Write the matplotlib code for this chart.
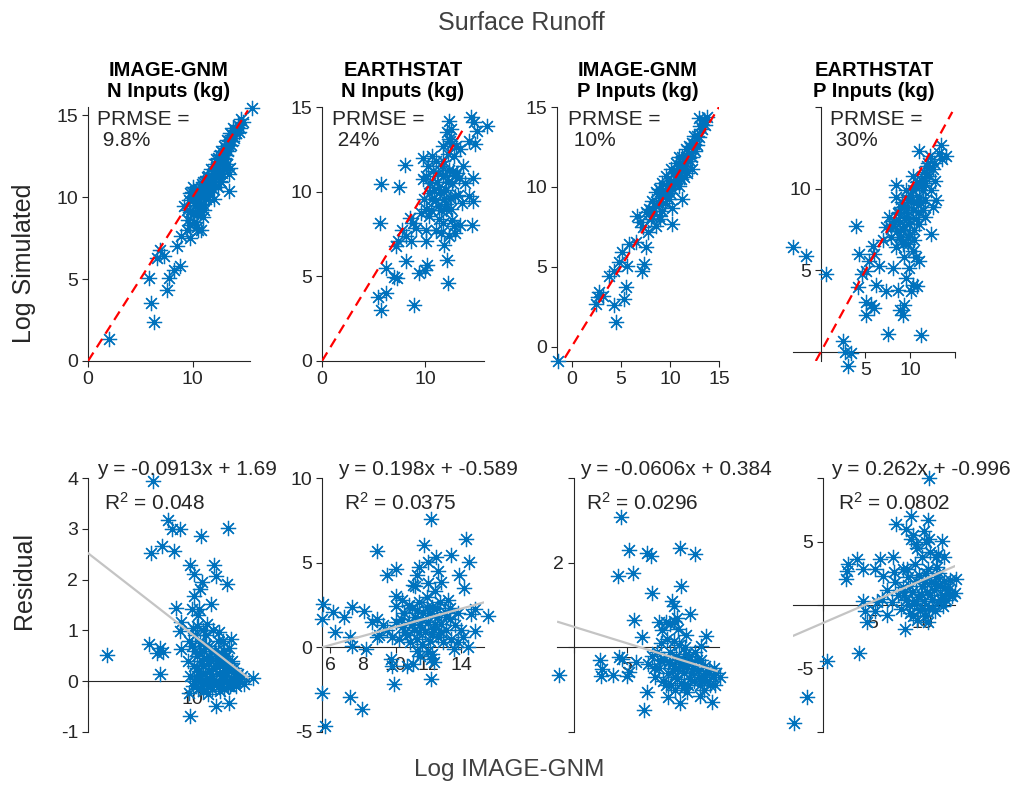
import numpy as np
import matplotlib
matplotlib.use("Agg")
import matplotlib.pyplot as plt

plt.rcParams['font.family'] = ['Liberation Sans', 'DejaVu Sans']
plt.rcParams['mathtext.default'] = 'regular'

# ---- data ----
titles = ["IMAGE-GNM\nN Inputs (kg)", "EARTHSTAT\nN Inputs (kg)",
          "IMAGE-GNM\nP Inputs (kg)", "EARTHSTAT\nP Inputs (kg)"]
prmse = ["9.8%", "24%", "10%", "30%"]
eq_text = ["y = -0.0913x + 1.69", "y = 0.198x + -0.589",
           "y = -0.0606x + 0.384", "y = 0.262x + -0.996"]
r2_text = ["0.048", "0.0375", "0.0296", "0.0802"]

n_image_pts = [(1.96,1.33),(6.35,2.41),(6.03,3.53),(5.8,5.06),(7.56,4.35),(7.72,5.06),(8.2,5.57),(8.8,5.78),
    (6.92,6.8),(6.6,6.29),(7.24,6.39),(8.5,7.0),(8.85,7.6),(9.5,8.0),(9.8,7.5),(10.8,8.0),(9.2,9.45),(9.8,10.27),
    (11.1,9.24),(12.05,9.86),(13.5,10.37),(13.5,11.39),(15.7,15.47),
    (9.5,9.2),(9.7,9.8),(9.9,10.3),(10.0,9.0),(10.1,8.5),(10.2,9.5),(10.3,10.1),(10.4,8.2),(10.5,9.7),(10.6,10.5),
    (10.7,9.1),(10.8,10.2),(10.9,10.8),(11.0,9.6),(11.1,10.4),(11.2,11.0),(11.3,9.9),(11.4,10.7),(11.5,11.3),
    (11.6,10.3),(11.7,11.0),(11.8,11.7),(11.9,10.8),(12.0,11.5),(12.1,12.0),(12.2,11.2),(12.3,11.9),(12.4,12.4),
    (12.5,11.5),(12.6,12.2),(12.7,12.8),(12.8,12.0),(12.9,12.6),(13.0,13.1),(13.1,12.3),(13.2,13.0),(13.3,13.5),
    (13.4,12.8),(13.5,13.4),(13.6,13.9),(13.7,13.2),(13.8,13.8),(13.9,14.2),(14.0,13.6),(14.1,14.1),(14.3,14.4),
    (14.5,14.2),(14.6,14.8),(14.8,14.6),(12.6,11.0),(13.0,11.8),(13.3,12.0),(11.0,8.8),(10.5,8.0),(9.8,8.3),
    (12.0,10.5),(12.7,10.9),(13.6,11.8),(9.6,8.6),(10.0,10.6),(12.4,10.6),
    (10.2,10.0),(10.6,9.9),(11.0,10.9),(11.4,11.2),(11.8,11.2),(12.2,12.3),(12.6,12.6),(13.0,12.4),(13.4,13.2),
    (13.8,13.4),(14.2,13.9),(14.4,14.0),(10.4,9.0),(10.8,9.5),(11.2,10.1),(11.6,10.8),(12.0,11.0),(12.4,11.6),
    (12.8,11.5),(13.2,12.6),(9.8,9.1),(10.1,9.9),(10.9,10.5),(11.5,10.0),(12.2,11.6)]

n_earth_pts = [(5.75,10.44),(5.65,8.16),(7.5,10.3),(8.0,11.6),(6.23,5.49),(7.0,4.99),(7.25,4.89),(5.43,3.8),
    (5.75,3.0),(6.2,4.0),(8.1,5.88),(9.4,5.19),(10.2,5.68),(10.0,5.39),(8.95,3.31),(12.1,5.98),(12.2,4.59),
    (7.2,6.77),(7.35,7.07),(7.8,7.76),(8.15,7.37),(8.5,8.46),(8.8,8.16),(9.1,7.86),(8.6,7.07),(10.1,7.07),
    (9.75,12.0),(9.8,10.73),(10.7,12.1),(11.0,11.8),(11.7,11.8),(12.3,14.2),(12.45,13.0),(14.4,14.4),(14.7,14.1),
    (14.85,12.8),(16.0,13.9),(14.2,9.74),(14.6,9.45),(14.5,8.06),(14.6,10.83),(13.3,10.83),
    (10.1,7.76),(10.4,8.55),(10.7,9.54),(10.9,10.1),(11.2,9.15),(11.3,10.3),(11.7,10.9),(11.8,9.54),(12.0,10.1),
    (12.3,11.3),(12.5,8.95),(12.6,10.5),(12.8,12.1),(12.9,9.74),(13.1,11.1),(13.4,12.5),(13.6,9.35),(13.7,11.5),
    (13.9,10.5),(11.0,7.76),(11.5,7.56),(11.8,6.87),(12.3,7.37),(12.8,7.96),(13.4,8.06),(11.7,8.16),(12.1,13.5),
    (12.5,13.7),(12.6,12.9),(11.7,12.7),(10.3,11.5),(10.1,10.9),(10.5,10.5),(10.4,9.94),(11.2,11.1),(12.0,8.95),
    (12.9,7.56),(9.9,9.54),(9.6,8.75),(10.1,8.95),(14.2,13.0),(15.0,13.6),
    (10.6,8.9),(11.0,9.5),(11.4,10.0),(11.6,11.5),(12.2,10.6),(12.4,9.6),(12.7,11.2),(12.2,12.2),(11.9,11.0),
    (11.1,10.6),(10.8,11.2),(11.5,8.9),(12.9,10.9),(13.2,9.8),(12.0,9.3),(11.3,8.4),(12.6,8.3),(13.0,12.7),
    (12.3,13.1)]

p_image_pts = [(-1.42,-0.88),(2.47,2.67),(2.8,3.4),(2.64,3.08),(3.14,3.19),(4.32,2.6),(4.5,1.52),(5.34,2.98),
    (5.57,3.71),(3.75,4.44),(4.32,4.75),(4.83,5.27),(5.68,5.06),(5.17,5.9),(5.84,6.42),(6.59,6.52),(7.53,6.21),
    (7.36,5.17),(7.2,4.75),(6.69,8.19),(7.53,8.4),(8.04,7.98),(8.55,7.56),(9.2,8.5),(10.2,7.67),(10.2,8.7),
    (11.25,9.23),(8.2,9.13),(8.9,9.85),(9.2,10.27),(9.56,10.7),(10.07,11.1),(10.6,11.5),(10.9,11.9),(11.6,12.35),
    (12.3,12.77),(12.8,13.2),(13.1,13.8),(13.45,14.2),(13.8,14.4),(12.94,14.3),(10.2,9.85),(10.6,10.5),(10.9,10.9),
    (11.4,11.3),(11.76,11.6),(12.3,11.9),(12.6,12.25),(9.56,9.44),(8.9,9.0),(9.7,10.06),(10.4,10.9),(11.25,11.9),
    (11.9,12.56),(12.43,13.2),(10.9,10.06),(9.9,9.23),(11.76,10.9),(11.1,10.5),(8.9,8.19),(7.87,8.6),(8.55,9.65),
    (9.2,9.44),(8.2,8.19),(12.3,11.1),(11.4,10.6),(10.07,10.27),(10.74,10.98),(7.0,7.8),(7.3,7.5),(7.8,7.2),
    (8.3,8.5),(9.0,8.0),
    (8.6,8.8),(9.3,9.7),(9.8,9.9),(10.3,10.4),(10.8,10.7),(11.2,11.1),(11.6,11.9),(12.1,12.1),(12.5,12.7),
    (13.0,13.1),(13.3,13.6),(9.0,9.3),(9.5,9.0),(10.0,9.6),(10.5,10.2),(11.0,11.3),(11.5,11.0),(12.0,11.6),
    (12.8,12.6),(13.6,13.9)]

p_earth_pts = [(-3.07,6.41),(-1.6,5.85),(0.56,4.79),(3.96,7.7),(2.48,0.7),(2.67,0.0),(3.4,-0.06),(3.0,-0.85),
    (7.48,1.12),(11.2,1.06),(4.15,3.96),(5.07,2.26),(5.63,2.88),(6.0,2.7),(5.07,3.09),(4.33,6.0),(5.07,4.96),
    (4.6,4.75),(5.81,6.51),(6.0,6.0),(5.44,5.58),(6.55,5.27),(6.19,4.13),(7.3,3.71),(8.03,5.17),(8.6,3.82),
    (8.8,2.57),(9.3,2.88),(9.15,2.26),(9.5,4.54),(9.9,5.17),(10.26,4.13),(10.8,4.02),(10.07,3.71),(9.15,6.62),
    (10.26,6.2),(10.6,5.79),(9.7,6.62),(11.0,5.58),(8.4,10.25),(9.5,9.9),(8.4,9.5),(11.0,12.3),(13.4,12.7),
    (13.6,11.8),(12.5,8.9),(12.3,7.24),(12.85,9.3),
    (7.3,7.66),(8.03,7.86),(7.67,8.28),(8.8,7.97),(9.15,7.45),(8.6,8.49),(9.5,8.28),(9.9,7.86),(10.26,8.69),
    (10.6,9.1),(10.07,9.3),(11.0,9.5),(11.4,9.94),(11.7,10.35),(12.1,10.77),(12.5,11.18),(11.9,11.4),(11.5,11.0),
    (10.6,10.15),(9.7,9.3),(8.96,8.9),(10.4,7.45),(11.0,7.86),(11.7,8.28),(11.4,8.69),(9.7,7.03),(8.8,7.03),
    (7.85,7.03),(6.9,6.83),(8.4,6.41),(9.33,5.79),(10.4,6.83),(11.2,10.56),(10.26,10.77),(9.33,8.9),(11.7,9.3),
    (12.67,11.6),(13.2,12.2),(13.96,12.0),(12.3,9.94),(10.6,8.17),
    (8.2,8.0),(8.7,8.6),(9.1,9.2),(9.6,8.9),(10.0,9.6),(10.3,9.9),(10.8,10.4),(11.3,10.2),(11.8,10.9),(12.0,11.6),
    (9.3,7.7),(9.8,8.2),(10.9,8.6),(11.2,9.1),(8.5,7.4),(9.0,6.9),(10.0,7.2),(12.2,12.0),(12.8,10.5),(7.9,7.6)]

n_image_res = [(1.8,0.51),(6.22,3.94),(7.66,3.17),(8.04,3.0),(8.78,2.99),(6.06,2.52),(7.08,2.66),(8.2,2.57),
    (10.77,2.86),(13.43,3.02),(9.8,2.28),(12.05,2.29),(10.13,2.11),(10.93,1.95),(12.2,2.08),(13.33,1.91),
    (10.7,1.82),(8.46,1.45),(10.13,1.68),(11.73,1.52),(9.97,1.42),(10.6,1.42),(8.75,0.99),(8.85,1.16),
    (10.45,1.09),(11.4,1.12),(12.5,0.96),(13.65,0.84),(5.8,0.73),(6.92,0.66),(6.6,0.55),(7.18,0.57),(6.92,0.15),
    (8.85,0.63),(9.65,-0.23),(9.8,-0.68),(12.2,-0.48),(13.5,-0.43),(15.74,0.07),
    (9.6,0.4),(9.8,0.1),(9.9,0.7),(10.0,-0.1),(10.1,0.3),(10.2,0.9),(10.3,0.05),(10.4,0.5),(10.5,-0.15),
    (10.6,0.2),(10.7,0.75),(10.8,0.0),(10.9,0.4),(11.0,-0.2),(11.1,0.6),(11.2,0.15),(11.3,0.9),(11.4,-0.05),
    (11.5,0.35),(11.6,0.7),(11.7,0.05),(11.8,0.45),(11.9,-0.15),(12.0,0.25),(12.1,0.6),(12.2,0.0),(12.3,0.4),
    (12.4,0.8),(12.5,-0.1),(12.6,0.3),(12.7,0.55),(12.8,0.05),(12.9,0.35),(13.0,-0.15),(13.1,0.2),(13.2,0.5),
    (13.3,0.0),(13.4,0.3),(13.5,0.65),(13.6,-0.1),(13.7,0.2),(13.8,0.4),(13.9,0.0),(14.0,0.25),(14.2,-0.1),
    (14.3,0.15),(14.5,0.05),(14.7,0.1),(14.9,-0.05),(10.0,1.05),(10.5,1.3),(11.0,1.0),(12.0,1.0),(9.7,0.8),
    (11.5,-0.25),(12.9,0.8),(10.2,0.6),(11.3,0.45),(12.6,-0.2),(13.0,0.6),
    (10.1,0.0),(10.4,0.25),(10.7,0.1),(11.0,0.3),(11.3,0.0),(11.6,0.2),(11.9,0.1),(12.2,0.3),(12.5,0.15),
    (12.8,-0.05),(13.1,0.1),(13.4,-0.1),(13.7,0.05),(14.0,-0.05),(14.4,0.0),(10.6,0.55),(11.2,0.7),(11.8,0.6),
    (12.4,0.5),(13.0,0.45),(13.6,0.35),(14.1,0.1),(10.9,-0.1),(12.0,-0.05),(13.2,0.3)]

n_earth_res = [(5.69,-4.64),(5.49,-2.67),(7.19,-2.96),(7.95,-3.66),(9.9,-2.17),(12.15,-1.88),(12.15,7.6),
    (11.74,6.03),(8.87,5.67),(9.45,4.25),(10.0,4.64),(14.3,6.42),(13.38,5.47),(14.5,5.04),(13.9,4.25),(14.2,3.5),
    (11.44,4.74),(11.95,5.04),(12.46,5.34),(12.77,3.85),(11.03,3.66),(11.33,4.25),(5.59,2.57),(5.49,1.68),
    (6.2,2.11),(6.86,1.78),(7.33,2.37),(8.05,2.17),(6.3,0.89),(7.23,0.59),(7.33,0.1),(8.2,-0.1),(8.56,1.48),
    (8.87,1.68),(8.87,0.59),(10.0,3.06),(10.0,2.47),(9.69,-0.69),(9.79,-1.09),(10.72,-1.09),(11.03,-0.99),
    (11.33,-0.2),(11.95,-0.2),(12.15,-0.69),(12.36,-0.89),(13.59,-0.1),(13.8,0.3),(14.1,0.59),(14.4,0.0),
    (14.82,0.99),(15.64,1.88),(14.6,1.98),(14.82,2.27),
    (10.2,0.5),(10.4,1.2),(10.5,2.0),(10.7,0.7),(10.8,1.5),(10.9,0.3),(11.0,2.3),(11.1,1.0),(11.2,1.8),(11.3,0.5),
    (11.4,2.7),(11.5,1.3),(11.6,0.2),(11.7,2.0),(11.8,0.9),(11.9,3.0),(12.0,1.5),(12.1,0.4),(12.2,2.4),(12.3,1.1),
    (12.4,3.3),(12.5,1.8),(12.6,0.6),(12.7,2.7),(12.8,1.4),(12.9,0.3),(13.0,2.1),(13.1,1.0),(13.2,2.8),(13.3,1.7),
    (13.4,0.5),(13.6,1.3),(13.8,2.0),(14.0,1.0),(11.2,3.6),(12.0,3.8),(12.6,4.5),(10.4,2.8),(9.5,1.0),(9.8,0.6),
    (10.0,1.5),(11.5,-0.5),(12.2,-0.4),(9.2,1.3),(9.0,0.7),
    (10.3,1.7),(10.6,0.9),(11.0,1.4),(11.3,2.2),(11.6,1.6),(11.9,2.4),(12.2,0.8),(12.5,2.3),(12.8,0.9),(13.1,1.8),
    (12.1,2.0),(11.4,0.9),(10.8,2.5),(12.4,1.4),(13.3,2.3)]

p_image_res = [(-1.38,-0.65),(4.45,3.08),(5.21,2.31),(6.9,2.24),(7.2,2.16),(4.2,1.69),(5.52,1.76),(9.97,2.35),
    (11.35,2.2),(7.36,1.29),(10.06,1.45),(9.2,1.1),(9.36,0.98),(10.9,0.78),(5.67,0.65),(7.98,0.6),(9.36,0.63),
    (6.44,0.24),(9.8,0.43),(12.4,0.27),(11.9,0.04),(2.45,-0.31),(2.7,-0.51),(2.6,-0.67),(3.68,-0.65),(4.23,-0.24),
    (4.54,-0.27),(4.97,-0.67),(5.21,-0.59),(5.83,-0.35),(6.6,-1.49),(6.9,-1.06),(8.83,-1.18),(9.97,-1.31),
    (11.8,-1.14),(12.9,-1.29),(13.65,-0.71),(13.2,-0.9),
    (7.0,-0.4),(7.3,-0.2),(7.6,-0.7),(7.8,-0.1),(8.0,-0.5),(8.2,0.1),(8.4,-0.8),(8.5,-0.3),(8.7,0.2),(8.8,-0.6),
    (9.0,-0.1),(9.1,-0.9),(9.2,-0.4),(9.4,0.15),(9.5,-0.7),(9.6,-0.2),(9.8,-0.5),(9.9,0.05),(10.0,-0.85),
    (10.2,-0.3),(10.3,-0.6),(10.4,0.0),(10.6,-0.45),(10.7,-0.9),(10.8,-0.2),(11.0,-0.6),(11.1,-0.35),(11.3,-0.8),
    (11.4,-0.1),(11.6,-0.55),(11.8,-0.9),(11.9,-0.3),(12.1,-0.65),(12.3,-0.45),(12.5,-0.8),(12.7,-0.55),
    (13.0,-0.7),(13.3,-0.6),(8.6,0.6),(9.0,0.55),(8.3,0.4),(10.5,0.3),(9.7,0.7),(7.5,-0.5),
    (8.1,-0.3),(8.9,-0.35),(9.3,-0.55),(9.7,-0.75),(10.1,-0.45),(10.5,-0.15),(10.9,-0.75),(11.2,-0.5),
    (11.5,-0.3),(12.0,-0.8),(12.4,-0.6),(12.8,-0.9),(13.1,-0.5),(9.5,-1.0),(10.6,-1.05),(11.7,-0.7),(8.6,-0.9),
    (9.9,-0.3),(10.3,-0.95),(12.2,-1.0)]

p_earth_res = [(-2.93,-9.29),(-1.6,-7.27),(0.4,-4.38),(3.63,-3.78),(10.73,9.97),(7.4,6.38),(8.9,6.98),(10.57,6.72),
    (12.0,5.01),(10.67,5.2),(8.9,5.2),(9.4,4.8),(8.4,5.98),(2.57,3.23),(3.4,3.62),(2.33,2.05),(2.47,2.7),
    (4.07,2.83),(5.23,2.83),(5.73,3.62),(6.07,2.31),(7.07,3.75),(8.07,2.83),(11.4,3.75),(12.23,3.75),(13.4,2.05),
    (13.33,0.94),(4.07,0.34),(4.4,-1.36),(5.23,-0.45),(4.23,-0.45),(8.23,-1.89),(10.57,-1.36),(9.07,-0.84),
    (6.0,0.5),(6.5,1.2),(7.0,0.2),(7.3,1.8),(7.6,0.8),(7.9,-0.3),(8.1,1.4),(8.4,0.4),(8.6,2.2),(8.8,-0.6),
    (9.0,1.0),(9.2,0.1),(9.4,1.9),(9.6,0.6),(9.8,-0.4),(10.0,1.5),(10.2,0.3),(10.4,2.5),(10.5,1.0),(10.7,-0.2),
    (10.9,1.8),(11.0,0.5),(11.2,1.2),(11.4,2.2),(11.6,0.2),(11.8,1.5),(12.0,0.8),(12.2,1.9),(12.4,0.4),(12.6,1.2),
    (12.8,2.0),(13.0,0.7),(9.3,3.2),(10.0,3.8),(10.8,4.2),(9.5,4.5),(9.1,5.5),(10.2,5.8),(8.5,2.8),(11.5,3.0),
    (7.2,2.6),(6.5,-0.8),(5.5,0.2),(10.3,-0.9),(11.3,-0.5),
    (8.2,0.8),(8.8,1.5),(9.4,0.3),(9.9,0.9),(10.3,1.8),(10.8,0.8),(11.3,1.7),(11.9,0.4),(12.3,1.3),(12.7,0.9),
    (9.7,2.4),(10.6,2.8),(11.7,2.5),(8.7,0.0),(10.0,-0.3),(11.0,-0.2),(12.1,-0.1),(9.5,-1.2),(11.6,4.0),(10.4,5.0)]

# 1:1 reference line span and fitted residual lines
ref_span = [(0, 15.3), (0, 13.9), (-0.7, 15.0), (-0.55, 14.7)]
fit_x = [(0, 15.3), (5.5, 15.6), (-1.44, 13.4), (-2.93, 13.4)]
fit_y = [(2.52, 0.07), (0.0, 2.71), (0.6, -0.56), (-2.41, 3.1)]

blue = '#0072BD'
dark = '#262626'
star = (8, 2, 0)

fig = plt.figure(figsize=(10.19, 7.87), dpi=100)
lefts = [0.0864, 0.316, 0.5466, 0.7782]
w, h = 0.159, 0.3227


def make_axes(pos, xlim, ylim, xticks, xlabels, yticks, ylabels, y_at_zero, x_at_zero):
    ax = fig.add_axes(pos)
    ax.set_xlim(*xlim)
    ax.set_ylim(*ylim)
    for s in ['top', 'right']:
        ax.spines[s].set_visible(False)
    for s in ['left', 'bottom']:
        ax.spines[s].set_color(dark)
        ax.spines[s].set_linewidth(0.8)
    if y_at_zero:
        ax.spines['left'].set_position(('data', 0))
    if x_at_zero:
        ax.spines['bottom'].set_position(('data', 0))
    ax.set_xticks(xticks)
    ax.set_xticklabels(xlabels)
    ax.set_yticks(yticks)
    ax.set_yticklabels(ylabels)
    ax.tick_params(direction='out', length=4, width=0.8, colors=dark, labelsize=14, pad=3)
    return ax


def scatter(ax, pts):
    pts = np.array(pts)
    ax.plot(pts[:, 0], pts[:, 1], linestyle='none', marker=star, markersize=11,
            markeredgewidth=0.9, color=blue, zorder=3, clip_on=False)


# ---- top row: simulated vs observed ----
top_pts = [n_image_pts, n_earth_pts, p_image_pts, p_earth_pts]
top_xlim = [(0, 15.5), (0, 15.7), (-1.5, 15), (-3.1, 15)]
top_ylim = [(0, 15.5), (0, 15), (-0.9, 15), (-0.55, 15)]
top_xt = [([0, 10], ['0', '10']), ([0, 10], ['0', '10']),
          ([0, 5, 10, 15], ['0', '5', '10', '15']), ([0, 5, 10, 15], ['', '5', '10', ''])]
top_yt = [([0, 5, 10, 15], ['0', '5', '10', '15']), ([0, 5, 10, 15], ['0', '5', '10', '15']),
          ([0, 5, 10, 15], ['0', '5', '10', '15']), ([0, 5, 10, 15], ['', '5', '10', ''])]
prmse_x = [0.056, 0.06, 0.067, 0.227]

for i in range(4):
    origin = (i == 3)
    ax = make_axes([lefts[i], 0.5413, w, h], top_xlim[i], top_ylim[i],
                   top_xt[i][0], top_xt[i][1], top_yt[i][0], top_yt[i][1], origin, origin)
    scatter(ax, top_pts[i])
    lo, hi = ref_span[i]
    ax.plot([lo, hi], [lo, hi], color='red', linewidth=1.6, dashes=(4.5, 2.8), zorder=4)
    ax.text(prmse_x[i], 0.99, "PRMSE =\n " + prmse[i], transform=ax.transAxes,
            fontsize=15, color=dark, va='top', ha='left', linespacing=1.15)
    ax.set_title(titles[i], fontsize=14.5, fontweight='bold', pad=7, linespacing=1.15)

# ---- bottom row: residuals ----
res_pts = [n_image_res, n_earth_res, p_image_res, p_earth_res]
res_xlim = [(0, 15.5), (5.5, 15.4), (-1.55, 13.6), (-3, 13.3)]
res_ylim = [(-1, 4), (-5, 10), (-2, 4), (-10, 10)]
res_xt = [([0, 10], ['', '10']), ([6, 8, 10, 12, 14], ['6', '8', '10', '12', '14']),
          ([0, 5, 10], ['', '5', '10']), ([0, 5, 10], ['', '5', '10'])]
res_yt = [([-1, 0, 1, 2, 3, 4], ['-1', '0', '1', '2', '3', '4']), ([-5, 0, 5, 10], ['-5', '0', '5', '10']),
          ([-2, 0, 2, 4], ['', '', '2', '']), ([-10, -5, 0, 5, 10], ['', '-5', '', '5', ''])]
eq_x = [0.056, 0.098, 0.141, 0.237]

for i in range(4):
    ax = make_axes([lefts[i], 0.0699, w, h], res_xlim[i], res_ylim[i],
                   res_xt[i][0], res_xt[i][1], res_yt[i][0], res_yt[i][1], i != 1, True)
    scatter(ax, res_pts[i])
    ax.plot(fit_x[i], fit_y[i], color='#c4c4c4', linewidth=1.6, zorder=4)
    ax.text(eq_x[i], 1.012, eq_text[i], transform=ax.transAxes, fontsize=15,
            color=dark, va='baseline', ha='left')
    ax.text(eq_x[i] + 0.04, 0.874, "R$^2$ = " + r2_text[i], transform=ax.transAxes,
            fontsize=15, color=dark, va='baseline', ha='left')

fig.text(0.512, 0.971, "Surface Runoff", fontsize=18, color='#404040', ha='center', va='center')
fig.text(0.5, 0.022, "Log IMAGE-GNM", fontsize=17.5, color='#404040', ha='center', va='center')
fig.text(0.024, 0.666, "Log Simulated", fontsize=18, color=dark, rotation=90, ha='center', va='center')
fig.text(0.024, 0.263, "Residual", fontsize=18, color=dark, rotation=90, ha='center', va='center')

fig.savefig("out.png", dpi=100)
